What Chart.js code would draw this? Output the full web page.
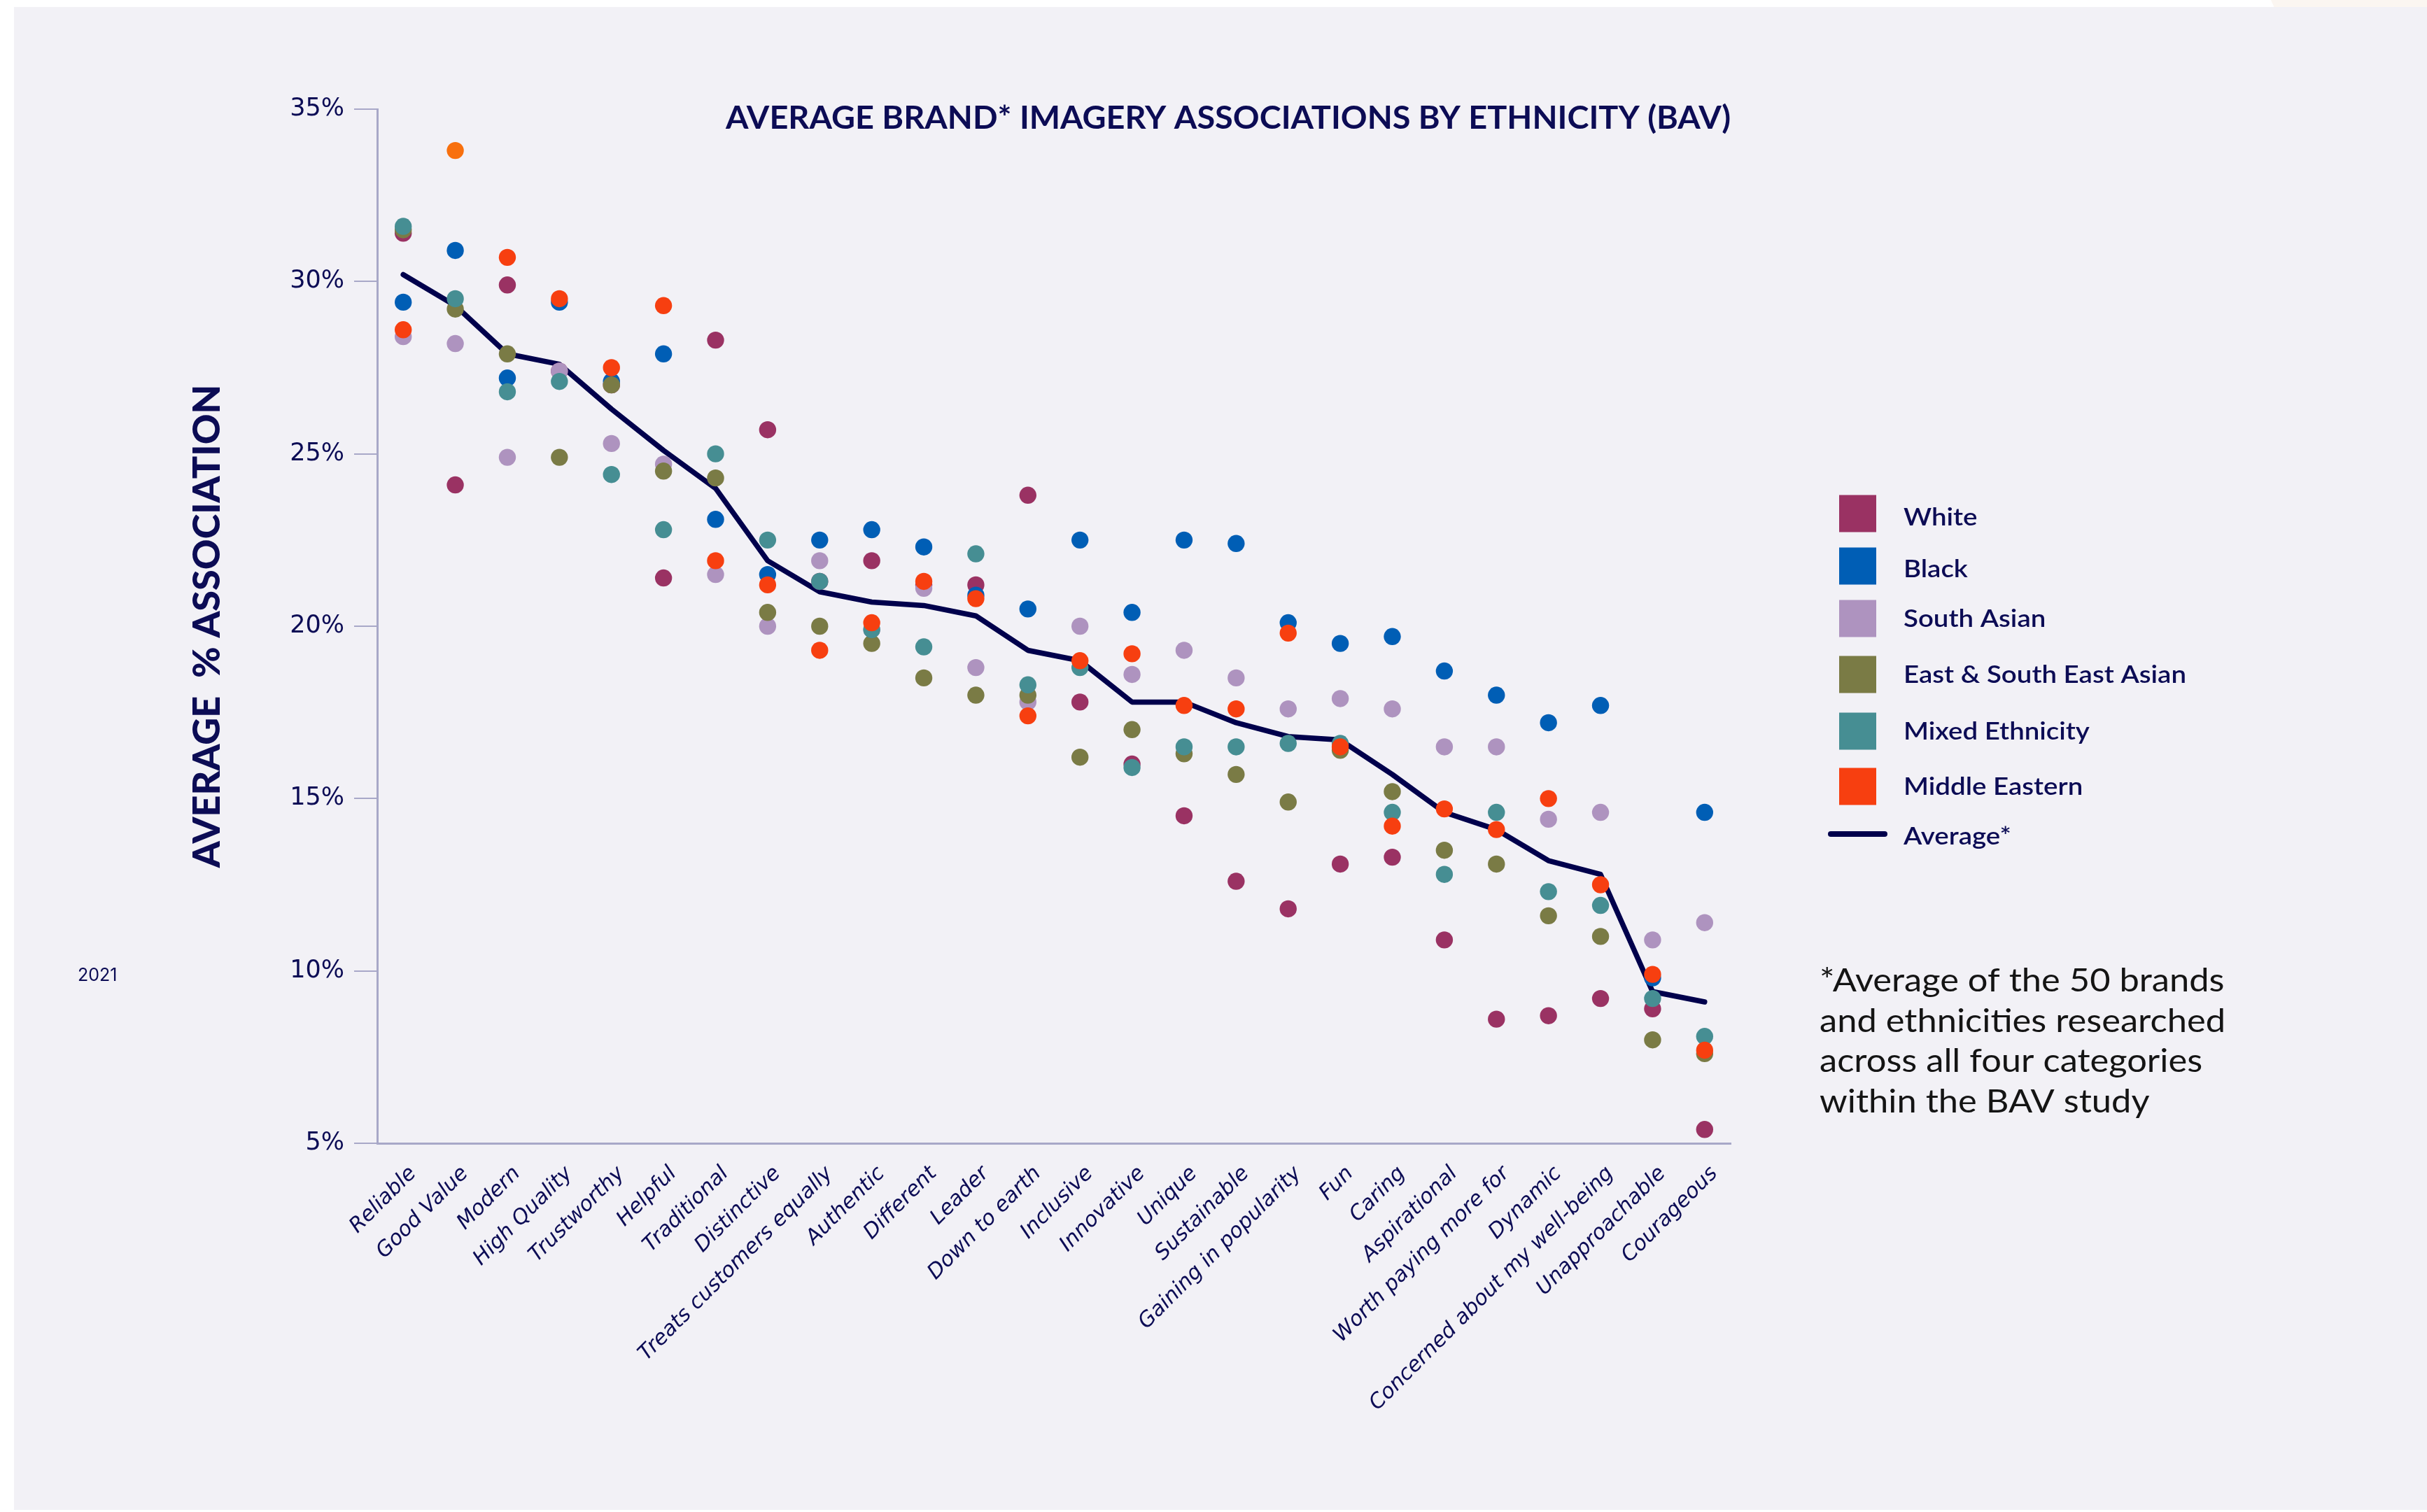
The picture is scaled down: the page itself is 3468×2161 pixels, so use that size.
<!DOCTYPE html>
<html>
<head>
<meta charset="utf-8">
<title>Average brand imagery associations by ethnicity (BAV)</title>
<script src="https://cdn.jsdelivr.net/npm/chart.js@4.4.1/dist/chart.umd.min.js"></script>
<style>
  html, body { margin: 0; padding: 0; background: #ffffff; }
  body { width: 3468px; height: 2161px; position: relative; overflow: hidden; }
  #panel { position: absolute; left: 20px; top: 10px; right: 0; bottom: 3px; background: #F2F1F6; }
  #corner { position: absolute; left: 3245px; top: 0; width: 223px; height: 10px; background: #FBF6F1;
            clip-path: polygon(0 0, 100% 0, 100% 100%, 2% 100%); }
  #chart { position: absolute; left: 0; top: 0; }
</style>
</head>
<body>
<div id="panel"></div>
<div id="corner"></div>
<canvas id="chart" width="3468" height="2161"></canvas>
<script>
// ---- data -------------------------------------------------------------
const categories = [
  'Reliable', 'Good Value', 'Modern', 'High Quality', 'Trustworthy', 'Helpful',
  'Traditional', 'Distinctive', 'Treats customers equally', 'Authentic', 'Different',
  'Leader', 'Down to earth', 'Inclusive', 'Innovative', 'Unique', 'Sustainable',
  'Gaining in popularity', 'Fun', 'Caring', 'Aspirational', 'Worth paying more for',
  'Dynamic', 'Concerned about my well-being', 'Unapproachable', 'Courageous'
];

// % association per ethnicity, in category order
const white         = [31.4, 24.1, 29.9, 27.4, 27.0, 21.4, 28.3, 25.7, 21.3, 21.9, 21.2, 21.2, 23.8, 17.8, 16.0, 14.5, 12.6, 11.8, 13.1, 13.3, 10.9, 8.6, 8.7, 9.2, 8.9, 5.4];
const black         = [29.4, 30.9, 27.2, 29.4, 27.1, 27.9, 23.1, 21.5, 22.5, 22.8, 22.3, 20.9, 20.5, 22.5, 20.4, 22.5, 22.4, 20.1, 19.5, 19.7, 18.7, 18.0, 17.2, 17.7, 9.8, 14.6];
const southAsian    = [28.4, 28.2, 24.9, 27.4, 25.3, 24.7, 21.5, 20.0, 21.9, 19.9, 21.1, 18.8, 17.8, 20.0, 18.6, 19.3, 18.5, 17.6, 17.9, 17.6, 16.5, 16.5, 14.4, 14.6, 10.9, 11.4];
const eastSeAsian   = [31.5, 29.2, 27.9, 24.9, 27.0, 24.5, 24.3, 20.4, 20.0, 19.5, 18.5, 18.0, 18.0, 16.2, 17.0, 16.3, 15.7, 14.9, 16.4, 15.2, 13.5, 13.1, 11.6, 11.0, 8.0, 7.6];
const mixed         = [31.6, 29.5, 26.8, 27.1, 24.4, 22.8, 25.0, 22.5, 21.3, 19.9, 19.4, 22.1, 18.3, 18.8, 15.9, 16.5, 16.5, 16.6, 16.6, 14.6, 12.8, 14.6, 12.3, 11.9, 9.2, 8.1];
const middleEastern = [28.6, 33.8, 30.7, 29.5, 27.5, 29.3, 21.9, 21.2, 19.3, 20.1, 21.3, 20.8, 17.4, 19.0, 19.2, 17.7, 17.6, 19.8, 16.5, 14.2, 14.7, 14.1, 15.0, 12.5, 9.9, 7.7];
const average       = [30.2, 29.3, 27.9, 27.6, 26.3, 25.1, 24.0, 21.9, 21.0, 20.7, 20.6, 20.3, 19.3, 19.0, 17.8, 17.8, 17.2, 16.8, 16.7, 15.7, 14.6, 14.1, 13.2, 12.8, 9.4, 9.1];

const seriesNames  = ['White', 'Black', 'South Asian', 'East & South East Asian', 'Mixed Ethnicity', 'Middle Eastern'];
const seriesValues = [white, black, southAsian, eastSeAsian, mixed, middleEastern];
const seriesColors = ['#9A3263', '#005EB5', '#AE93BF', '#7A7B45', '#468E93', '#F73F10'];
const averageLabel = 'Average*';
const averageColor = '#00004C';

// one point picked out in a lighter orange
const accentSeries = 'Middle Eastern';
const accentCategory = 'Good Value';
const accentColor = '#F8700E';

const yTicks = [5, 10, 15, 20, 25, 30, 35];

const chartTitle = 'AVERAGE BRAND* IMAGERY ASSOCIATIONS BY ETHNICITY (BAV)';
const yTitle = 'AVERAGE  % ASSOCIATION';
const yearLabel = '2021';
const footnoteLines = [
  '*Average of the 50 brands',
  'and ethnicities researched',
  'across all four categories',
  'within the BAV study'
];

// ---- styling ----------------------------------------------------------
const NAVY = '#0C0C55';
const AXIS = '#A8A8C8';

function drawFitted(ctx, text, x, y, font, scaleX) {
  ctx.save();
  ctx.font = font;
  ctx.translate(x, y);
  ctx.scale(scaleX, 1);
  ctx.fillText(text, 0, 0);
  ctx.restore();
}

// Title, legend, footnote and year stamp drawn around the plot
const decorations = {
  id: 'decorations',
  afterDraw(chart) {
    const ctx = chart.ctx;
    ctx.save();
    ctx.textAlign = 'left';
    ctx.textBaseline = 'alphabetic';

    // title
    ctx.fillStyle = NAVY;
    const titleFont = 'bold 46px Lato';
    ctx.font = titleFont;
    const tw = ctx.measureText(chartTitle).width;
    drawFitted(ctx, chartTitle, 1037, 184, titleFont, 1436 / tw);

    // legend
    const boxCenters = [734, 809, 884, 964, 1045, 1124];
    const baselines = [751, 825, 896, 976, 1057, 1136, 1207];
    const legendFont = '600 35px Lato';
    ctx.font = legendFont;
    const lk = 404 / ctx.measureText(seriesNames[3]).width;
    seriesNames.forEach((name, i) => {
      ctx.fillStyle = seriesColors[i];
      ctx.fillRect(2628, boxCenters[i] - 26.5, 53, 53);
      ctx.fillStyle = NAVY;
      drawFitted(ctx, name, 2720, baselines[i], legendFont, lk);
    });
    ctx.strokeStyle = averageColor;
    ctx.lineWidth = 8;
    ctx.lineCap = 'round';
    ctx.beginPath();
    ctx.moveTo(2616, 1192);
    ctx.lineTo(2693, 1192);
    ctx.stroke();
    ctx.fillStyle = NAVY;
    drawFitted(ctx, averageLabel, 2720, baselines[6], legendFont, lk);

    // footnote
    ctx.fillStyle = '#141414';
    const noteFont = '47px Lato';
    ctx.font = noteFont;
    const nk = 580 / ctx.measureText(footnoteLines[1]).width;
    footnoteLines.forEach((line, i) => {
      drawFitted(ctx, line, 2600, 1417 + i * 57.7, noteFont, nk);
    });

    // year
    ctx.fillStyle = NAVY;
    ctx.font = '25px Inter';
    ctx.fillText(yearLabel, 111, 1402);
    ctx.restore();
  }
};

const pointDatasets = seriesNames.map((name, i) => {
  const colors = categories.map(c =>
    (name === accentSeries && c === accentCategory) ? accentColor : seriesColors[i]);
  return {
    type: 'line',
    label: name,
    data: seriesValues[i],
    showLine: false,
    backgroundColor: seriesColors[i],
    borderColor: seriesColors[i],
    pointBackgroundColor: colors,
    pointBorderColor: colors,
    pointBorderWidth: 0,
    pointRadius: 12.2,
    pointHoverRadius: 12.2,
    order: seriesNames.length - i
  };
});

const averageDataset = {
  type: 'line',
  label: averageLabel,
  data: average,
  borderColor: averageColor,
  backgroundColor: averageColor,
  borderWidth: 7.5,
  borderJoinStyle: 'round',
  borderCapStyle: 'round',
  pointRadius: 0,
  pointHoverRadius: 0,
  tension: 0,
  fill: false,
  order: seriesNames.length + 1
};

new Chart(document.getElementById('chart'), {
  type: 'line',
  data: { labels: categories, datasets: [...pointDatasets, averageDataset] },
  options: {
    responsive: false,
    animation: false,
    events: [],
    layout: { padding: { left: 0, top: 156, right: 995, bottom: 0 } },
    plugins: {
      legend: { display: false },
      title: { display: false },
      tooltip: { enabled: false }
    },
    scales: {
      x: {
        type: 'category',
        offset: true,
        grid: { display: false, drawTicks: false },
        border: { display: true, color: AXIS, width: 3 },
        ticks: {
          autoSkip: false,
          minRotation: 45,
          maxRotation: 45,
          color: NAVY,
          font: { family: 'DejaVu Sans', style: 'italic', size: 30 },
          padding: 26,
          labelOffset: 14
        },
        afterFit(scale) { scale.height = 527; }
      },
      y: {
        min: yTicks[0],
        max: yTicks[yTicks.length - 1],
        ticks: {
          stepSize: yTicks[1] - yTicks[0],
          color: NAVY,
          font: { family: 'DejaVu Sans', size: 35 },
          padding: 14,
          callback: v => v + '%'
        },
        grid: { display: true, drawOnChartArea: false, drawTicks: true, tickLength: 33, color: AXIS, lineWidth: 2 },
        border: { display: true, color: AXIS, width: 3 },
        title: {
          display: true,
          text: yTitle,
          color: NAVY,
          font: { family: 'Lato', weight: '900', size: 54 },
          padding: { top: 264, bottom: 0 }
        },
        afterFit(scale) { scale.width = 539; }
      }
    }
  },
  plugins: [decorations]
});
</script>
</body>
</html>
